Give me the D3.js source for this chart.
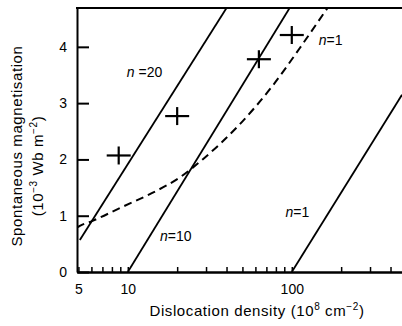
<!DOCTYPE html>
<html>
<head>
<meta charset="utf-8">
<script src="https://cdn.jsdelivr.net/npm/d3@7"></script>
<style>
  body { margin: 0; background: #fff; }
  svg { display: block; font-family: "Liberation Sans", Arial, sans-serif; }
</style>
</head>
<body>
<div id="chart"></div>
<script>
// tick values
const xLabelled = [5, 10, 100];
const xTickValues = [5, 6, 7, 8, 9, 10, 20, 30, 40, 50, 60, 70, 80, 90, 100, 200, 300, 400];
const yTickValues = [0, 1, 2, 3, 4];

// straight calculated lines (dislocation density, magnetisation)
const lineN20 = [[5.1, 0.57], [40, 4.69]];
const lineN10 = [[10, 0], [97, 4.69]];
const lineN1 = [[100, 0], [470, 3.15]];

// dashed curve n=1
const dashedN1 = [
  [4.9, 0.79], [5.1, 0.82], [6, 0.9], [9, 1.14], [14, 1.4], [21, 1.69],
  [28.6, 2.0], [48, 2.62], [76, 3.3], [112, 3.98], [165, 4.69]
];

// measured points (crosses)
const measured = [[8.8, 2.07], [20, 2.77], [63, 3.78], [100, 4.21]];

// curve labels: [x, y, text after n]
const curveLabels = [
  [9.86, 3.46, " =20"],
  [146, 4.03, "=1"],
  [15.7, 0.55, "=10"],
  [91.6, 0.98, "=1"]
];

const width = 402, height = 326;
const svg = d3.select("#chart").append("svg")
  .attr("width", width)
  .attr("height", height);

const x = d3.scaleLog().domain([4.9, 470]).range([77, 402]);
const y = d3.scaleLinear().domain([0, 4.69]).range([272, 8]);

svg.append("clipPath").attr("id", "plot")
  .append("rect")
  .attr("x", 77).attr("y", 8)
  .attr("width", width - 77).attr("height", 264);

const line = d3.line().x(d => x(d[0])).y(d => y(d[1]));

const g = svg.append("g").attr("clip-path", "url(#plot)");

[lineN20, lineN10, lineN1].forEach(l => {
  g.append("path")
    .attr("d", line(l))
    .attr("fill", "none")
    .attr("stroke", "#000")
    .attr("stroke-width", 1.8);
});

g.append("path")
  .attr("d", line.curve(d3.curveMonotoneX)(dashedN1))
  .attr("fill", "none")
  .attr("stroke", "#000")
  .attr("stroke-width", 2)
  .attr("stroke-dasharray", "8,5");

// crosses
const cross = svg.append("g").attr("stroke", "#000").attr("stroke-width", 2.2);
measured.forEach(d => {
  const cx = x(d[0]), cy = y(d[1]);
  cross.append("line").attr("x1", cx - 12).attr("x2", cx + 12).attr("y1", cy).attr("y2", cy);
  cross.append("line").attr("x1", cx).attr("x2", cx).attr("y1", cy - 9).attr("y2", cy + 9);
});

// labels
curveLabels.forEach(d => {
  const t = svg.append("text")
    .attr("x", x(d[0]))
    .attr("y", y(d[1]))
    .attr("font-size", 14);
  t.append("tspan").attr("font-style", "italic").text("n");
  t.append("tspan").text(d[2]);
});

// x axis
const xAxis = svg.append("g")
  .attr("transform", "translate(0,272)")
  .call(d3.axisBottom(x)
    .tickValues(xTickValues)
    .tickSize(-5)
    .tickSizeOuter(0)
    .tickPadding(12)
    .tickFormat(d => xLabelled.includes(d) ? d : ""));
xAxis.selectAll("text").attr("font-size", 14).attr("fill", "#000");
xAxis.selectAll("line").attr("stroke-width", 1.5);
xAxis.select(".domain").attr("stroke-width", 2.5);

// y axis
const yAxis = svg.append("g")
  .attr("transform", "translate(77,0)")
  .call(d3.axisLeft(y)
    .tickValues(yTickValues)
    .tickSize(-12)
    .tickSizeOuter(0)
    .tickPadding(10)
    .tickFormat(d3.format("d")));
yAxis.selectAll("text").attr("font-size", 14).attr("fill", "#000");
yAxis.selectAll("line").attr("stroke-width", 2);
yAxis.select(".domain").attr("stroke-width", 2);

// top frame
svg.append("line")
  .attr("x1", 76).attr("x2", width)
  .attr("y1", 8).attr("y2", 8)
  .attr("stroke", "#000").attr("stroke-width", 2);

// axis titles
const xt = svg.append("text")
  .attr("x", 257).attr("y", 316)
  .attr("text-anchor", "middle")
  .attr("font-size", 15)
  .attr("letter-spacing", 0.6);
xt.append("tspan").text("Dislocation density (10");
xt.append("tspan").attr("dy", -6).attr("font-size", 10).text("8");
xt.append("tspan").attr("dy", 6).text("  cm");
xt.append("tspan").attr("dy", -6).attr("font-size", 10).text("−2");
xt.append("tspan").attr("dy", 6).text(")");

svg.append("text")
  .attr("transform", "translate(22,146) rotate(-90)")
  .attr("text-anchor", "middle")
  .attr("font-size", 15)
  .attr("letter-spacing", 0.6)
  .text("Spontaneous  magnetisation");

const yt2 = svg.append("text")
  .attr("transform", "translate(43,166) rotate(-90)")
  .attr("text-anchor", "middle")
  .attr("font-size", 15)
  .attr("letter-spacing", 0.6);
yt2.append("tspan").text("(10");
yt2.append("tspan").attr("dy", -6).attr("font-size", 10).text("−3");
yt2.append("tspan").attr("dy", 6).text("  Wb  m");
yt2.append("tspan").attr("dy", -6).attr("font-size", 10).text("−2");
yt2.append("tspan").attr("dy", 6).text(")");
</script>
</body>
</html>
